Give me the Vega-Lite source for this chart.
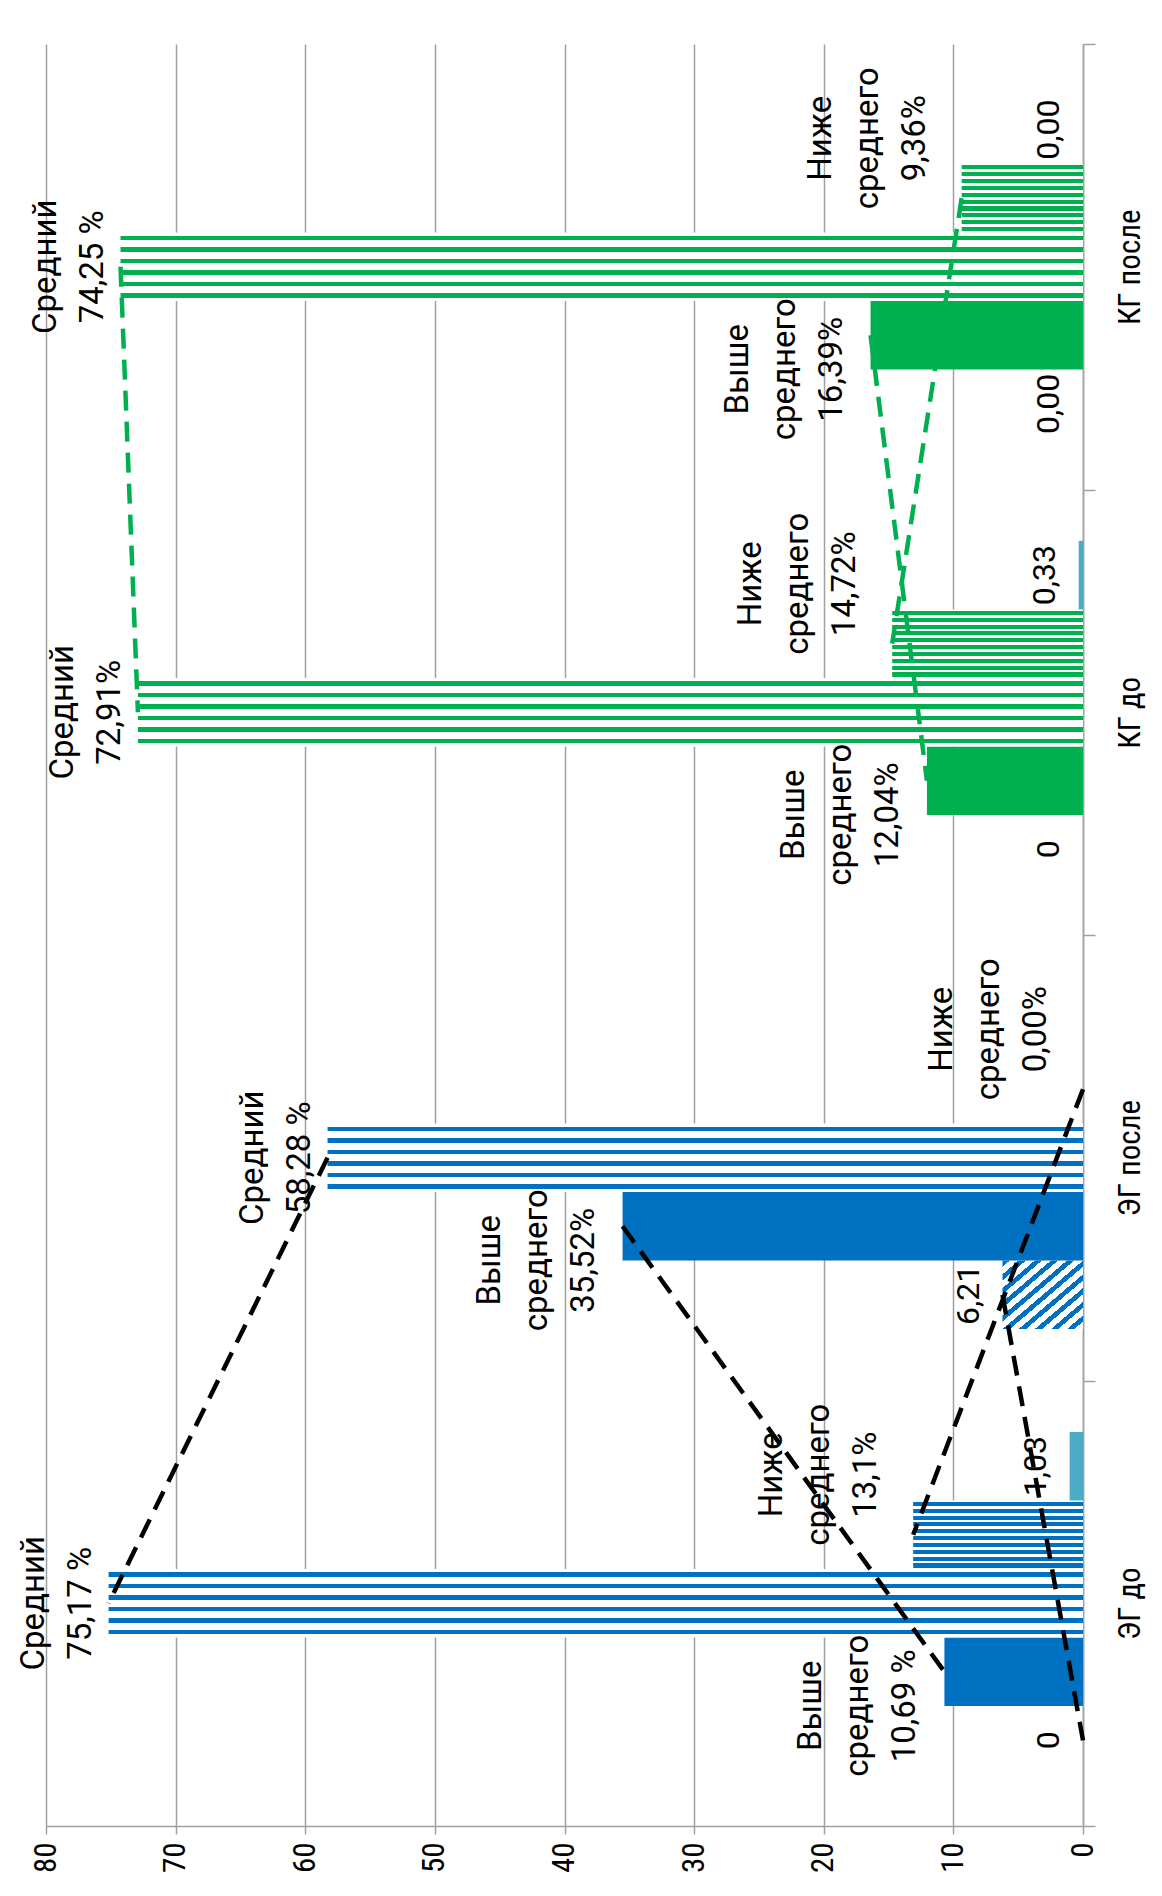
{
  "$schema": "https://vega.github.io/schema/vega-lite/v6.json",
  "width": 1037,
  "height": 1782,
  "autosize": {"type": "none"},
  "padding": {"left": 46, "top": 44, "right": 79, "bottom": 70},
  "background": "white",
  "config": {"view": {"stroke": null}, "font": "Roboto"},
  "data": {
    "values": [
      {"group": "ЭГ до", "cohort": "ЭГ", "series": "Высокий", "value": 0, "label": "0"},
      {"group": "ЭГ до", "cohort": "ЭГ", "series": "Выше", "value": 10.69, "label": "Выше\nсреднего\n10,69 %"},
      {"group": "ЭГ до", "cohort": "ЭГ", "series": "Средний", "value": 75.17, "label": "Средний\n75,17 %"},
      {"group": "ЭГ до", "cohort": "ЭГ", "series": "Ниже", "value": 13.1, "label": "Ниже\nсреднего\n13,1%"},
      {"group": "ЭГ до", "cohort": "ЭГ", "series": "Низкий", "value": 1.03, "label": "1,03"},
      {"group": "ЭГ после", "cohort": "ЭГ", "series": "Высокий", "value": 6.21, "label": "6,21"},
      {"group": "ЭГ после", "cohort": "ЭГ", "series": "Выше", "value": 35.52, "label": "Выше\nсреднего\n35,52%"},
      {"group": "ЭГ после", "cohort": "ЭГ", "series": "Средний", "value": 58.28, "label": "Средний\n58,28 %"},
      {"group": "ЭГ после", "cohort": "ЭГ", "series": "Ниже", "value": 0, "label": "Ниже\nсреднего\n0,00%"},
      {"group": "ЭГ после", "cohort": "ЭГ", "series": "Низкий", "value": 0, "label": ""},
      {"group": "КГ до", "cohort": "КГ", "series": "Высокий", "value": 0, "label": "0"},
      {"group": "КГ до", "cohort": "КГ", "series": "Выше", "value": 12.04, "label": "Выше\nсреднего\n12,04%"},
      {"group": "КГ до", "cohort": "КГ", "series": "Средний", "value": 72.91, "label": "Средний\n72,91%"},
      {"group": "КГ до", "cohort": "КГ", "series": "Ниже", "value": 14.72, "label": "Ниже\nсреднего\n14,72%"},
      {"group": "КГ до", "cohort": "КГ", "series": "Низкий", "value": 0.33, "label": "0,33"},
      {"group": "КГ после", "cohort": "КГ", "series": "Высокий", "value": 0, "label": "0,00"},
      {"group": "КГ после", "cohort": "КГ", "series": "Выше", "value": 16.39, "label": "Выше\nсреднего\n16,39%"},
      {"group": "КГ после", "cohort": "КГ", "series": "Средний", "value": 74.25, "label": "Средний\n74,25 %"},
      {"group": "КГ после", "cohort": "КГ", "series": "Ниже", "value": 9.36, "label": "Ниже\nсреднего\n9,36%"},
      {"group": "КГ после", "cohort": "КГ", "series": "Низкий", "value": 0, "label": "0,00"}
    ]
  },
  "encoding": {
    "y": {
      "field": "group",
      "type": "nominal",
      "scale": {"domain": ["КГ после", "КГ до", "ЭГ после", "ЭГ до"], "paddingInner": 0, "paddingOuter": 0},
      "axis": {
        "orient": "right",
        "title": null,
        "labelAngle": -90,
        "labelAlign": "center",
        "labelBaseline": "top",
        "labelFont": "Liberation Sans Narrow, Roboto Condensed, Roboto",
        "labelFontSize": 31,
        "labelColor": "#000000",
        "labelPadding": 20,
        "tickBand": "extent",
        "tickSize": 12,
        "tickColor": "#A0A0A0",
        "tickWidth": 1.5,
        "domainColor": "#A0A0A0",
        "domainWidth": 1.5,
        "grid": false
      }
    },
    "yOffset": {
      "field": "series",
      "type": "nominal",
      "scale": {"domain": ["Низкий", "Ниже", "Средний", "Выше", "Высокий"], "paddingInner": 0, "paddingOuter": 0.75}
    },
    "x": {
      "field": "value",
      "type": "quantitative",
      "scale": {"domain": [0, 80], "reverse": true, "nice": false, "zero": true},
      "axis": {
        "orient": "bottom",
        "title": null,
        "values": [0, 10, 20, 30, 40, 50, 60, 70, 80],
        "labelAngle": -90,
        "labelAlign": "right",
        "labelBaseline": "middle",
        "labelFont": "Liberation Sans Narrow, Roboto Condensed, Roboto",
        "labelFontSize": 31,
        "labelColor": "#000000",
        "labelPadding": 8,
        "labelFlush": false,
        "labelOverlap": false,
        "grid": true,
        "gridColor": "#A0A0A0",
        "gridWidth": 1.5,
        "tickSize": 8,
        "tickColor": "#A0A0A0",
        "tickWidth": 1.5,
        "domainColor": "#A0A0A0",
        "domainWidth": 1.5
      }
    }
  },
  "layer": [
    {
      "mark": {"type": "bar"},
      "encoding": {
        "fill": {
          "condition": [
            {"test": "datum.series === 'Низкий'", "value": "#4BACC6"},
            {"test": "datum.series === 'Выше' && datum.cohort === 'ЭГ'", "value": "#0070C0"},
            {"test": "datum.series === 'Выше'", "value": "#00B050"},
            {"test": "datum.series === 'Средний' && datum.cohort === 'ЭГ'", "value": {"gradient": "linear", "x1": 0, "y1": 0, "x2": 0, "y2": 1, "stops": [
              {"offset": 0, "color": "#FFFFFF"},
              {"offset": 0.05, "color": "#FFFFFF"}, {"offset": 0.05, "color": "#0070C0"}, {"offset": 0.117, "color": "#0070C0"}, {"offset": 0.117, "color": "#FFFFFF"},
              {"offset": 0.217, "color": "#FFFFFF"}, {"offset": 0.217, "color": "#0070C0"}, {"offset": 0.283, "color": "#0070C0"}, {"offset": 0.283, "color": "#FFFFFF"},
              {"offset": 0.383, "color": "#FFFFFF"}, {"offset": 0.383, "color": "#0070C0"}, {"offset": 0.45, "color": "#0070C0"}, {"offset": 0.45, "color": "#FFFFFF"},
              {"offset": 0.55, "color": "#FFFFFF"}, {"offset": 0.55, "color": "#0070C0"}, {"offset": 0.617, "color": "#0070C0"}, {"offset": 0.617, "color": "#FFFFFF"},
              {"offset": 0.717, "color": "#FFFFFF"}, {"offset": 0.717, "color": "#0070C0"}, {"offset": 0.783, "color": "#0070C0"}, {"offset": 0.783, "color": "#FFFFFF"},
              {"offset": 0.883, "color": "#FFFFFF"}, {"offset": 0.883, "color": "#0070C0"}, {"offset": 0.95, "color": "#0070C0"}, {"offset": 0.95, "color": "#FFFFFF"},
              {"offset": 1, "color": "#FFFFFF"}]}},
            {"test": "datum.series === 'Средний'", "value": {"gradient": "linear", "x1": 0, "y1": 0, "x2": 0, "y2": 1, "stops": [
              {"offset": 0, "color": "#FFFFFF"},
              {"offset": 0.05, "color": "#FFFFFF"}, {"offset": 0.05, "color": "#00B050"}, {"offset": 0.117, "color": "#00B050"}, {"offset": 0.117, "color": "#FFFFFF"},
              {"offset": 0.217, "color": "#FFFFFF"}, {"offset": 0.217, "color": "#00B050"}, {"offset": 0.283, "color": "#00B050"}, {"offset": 0.283, "color": "#FFFFFF"},
              {"offset": 0.383, "color": "#FFFFFF"}, {"offset": 0.383, "color": "#00B050"}, {"offset": 0.45, "color": "#00B050"}, {"offset": 0.45, "color": "#FFFFFF"},
              {"offset": 0.55, "color": "#FFFFFF"}, {"offset": 0.55, "color": "#00B050"}, {"offset": 0.617, "color": "#00B050"}, {"offset": 0.617, "color": "#FFFFFF"},
              {"offset": 0.717, "color": "#FFFFFF"}, {"offset": 0.717, "color": "#00B050"}, {"offset": 0.783, "color": "#00B050"}, {"offset": 0.783, "color": "#FFFFFF"},
              {"offset": 0.883, "color": "#FFFFFF"}, {"offset": 0.883, "color": "#00B050"}, {"offset": 0.95, "color": "#00B050"}, {"offset": 0.95, "color": "#FFFFFF"},
              {"offset": 1, "color": "#FFFFFF"}]}},
            {"test": "datum.series === 'Ниже' && datum.cohort === 'ЭГ'", "value": {"gradient": "linear", "x1": 0, "y1": 0, "x2": 0, "y2": 1, "stops": [
              {"offset": 0, "color": "#FFFFFF"},
              {"offset": 0.02, "color": "#FFFFFF"}, {"offset": 0.02, "color": "#0070C0"}, {"offset": 0.08, "color": "#0070C0"}, {"offset": 0.08, "color": "#FFFFFF"},
              {"offset": 0.12, "color": "#FFFFFF"}, {"offset": 0.12, "color": "#0070C0"}, {"offset": 0.18, "color": "#0070C0"}, {"offset": 0.18, "color": "#FFFFFF"},
              {"offset": 0.22, "color": "#FFFFFF"}, {"offset": 0.22, "color": "#0070C0"}, {"offset": 0.28, "color": "#0070C0"}, {"offset": 0.28, "color": "#FFFFFF"},
              {"offset": 0.32, "color": "#FFFFFF"}, {"offset": 0.32, "color": "#0070C0"}, {"offset": 0.38, "color": "#0070C0"}, {"offset": 0.38, "color": "#FFFFFF"},
              {"offset": 0.42, "color": "#FFFFFF"}, {"offset": 0.42, "color": "#0070C0"}, {"offset": 0.48, "color": "#0070C0"}, {"offset": 0.48, "color": "#FFFFFF"},
              {"offset": 0.52, "color": "#FFFFFF"}, {"offset": 0.52, "color": "#0070C0"}, {"offset": 0.58, "color": "#0070C0"}, {"offset": 0.58, "color": "#FFFFFF"},
              {"offset": 0.62, "color": "#FFFFFF"}, {"offset": 0.62, "color": "#0070C0"}, {"offset": 0.68, "color": "#0070C0"}, {"offset": 0.68, "color": "#FFFFFF"},
              {"offset": 0.72, "color": "#FFFFFF"}, {"offset": 0.72, "color": "#0070C0"}, {"offset": 0.78, "color": "#0070C0"}, {"offset": 0.78, "color": "#FFFFFF"},
              {"offset": 0.82, "color": "#FFFFFF"}, {"offset": 0.82, "color": "#0070C0"}, {"offset": 0.88, "color": "#0070C0"}, {"offset": 0.88, "color": "#FFFFFF"},
              {"offset": 0.92, "color": "#FFFFFF"}, {"offset": 0.92, "color": "#0070C0"}, {"offset": 0.98, "color": "#0070C0"}, {"offset": 0.98, "color": "#FFFFFF"},
              {"offset": 1, "color": "#FFFFFF"}]}},
            {"test": "datum.series === 'Ниже'", "value": {"gradient": "linear", "x1": 0, "y1": 0, "x2": 0, "y2": 1, "stops": [
              {"offset": 0, "color": "#FFFFFF"},
              {"offset": 0.02, "color": "#FFFFFF"}, {"offset": 0.02, "color": "#00B050"}, {"offset": 0.08, "color": "#00B050"}, {"offset": 0.08, "color": "#FFFFFF"},
              {"offset": 0.12, "color": "#FFFFFF"}, {"offset": 0.12, "color": "#00B050"}, {"offset": 0.18, "color": "#00B050"}, {"offset": 0.18, "color": "#FFFFFF"},
              {"offset": 0.22, "color": "#FFFFFF"}, {"offset": 0.22, "color": "#00B050"}, {"offset": 0.28, "color": "#00B050"}, {"offset": 0.28, "color": "#FFFFFF"},
              {"offset": 0.32, "color": "#FFFFFF"}, {"offset": 0.32, "color": "#00B050"}, {"offset": 0.38, "color": "#00B050"}, {"offset": 0.38, "color": "#FFFFFF"},
              {"offset": 0.42, "color": "#FFFFFF"}, {"offset": 0.42, "color": "#00B050"}, {"offset": 0.48, "color": "#00B050"}, {"offset": 0.48, "color": "#FFFFFF"},
              {"offset": 0.52, "color": "#FFFFFF"}, {"offset": 0.52, "color": "#00B050"}, {"offset": 0.58, "color": "#00B050"}, {"offset": 0.58, "color": "#FFFFFF"},
              {"offset": 0.62, "color": "#FFFFFF"}, {"offset": 0.62, "color": "#00B050"}, {"offset": 0.68, "color": "#00B050"}, {"offset": 0.68, "color": "#FFFFFF"},
              {"offset": 0.72, "color": "#FFFFFF"}, {"offset": 0.72, "color": "#00B050"}, {"offset": 0.78, "color": "#00B050"}, {"offset": 0.78, "color": "#FFFFFF"},
              {"offset": 0.82, "color": "#FFFFFF"}, {"offset": 0.82, "color": "#00B050"}, {"offset": 0.88, "color": "#00B050"}, {"offset": 0.88, "color": "#FFFFFF"},
              {"offset": 0.92, "color": "#FFFFFF"}, {"offset": 0.92, "color": "#00B050"}, {"offset": 0.98, "color": "#00B050"}, {"offset": 0.98, "color": "#FFFFFF"},
              {"offset": 1, "color": "#FFFFFF"}]}},
            {"test": "datum.series === 'Высокий' && datum.cohort === 'ЭГ'", "value": {"gradient": "linear", "x1": 0, "y1": 0, "x2": 1, "y2": 1, "stops": [
              {"offset": 0, "color": "#0070C0"}, {"offset": 0.045, "color": "#0070C0"}, {"offset": 0.045, "color": "#FFFFFF"}, {"offset": 0.1, "color": "#FFFFFF"},
              {"offset": 0.1, "color": "#0070C0"}, {"offset": 0.145, "color": "#0070C0"}, {"offset": 0.145, "color": "#FFFFFF"}, {"offset": 0.2, "color": "#FFFFFF"},
              {"offset": 0.2, "color": "#0070C0"}, {"offset": 0.245, "color": "#0070C0"}, {"offset": 0.245, "color": "#FFFFFF"}, {"offset": 0.3, "color": "#FFFFFF"},
              {"offset": 0.3, "color": "#0070C0"}, {"offset": 0.345, "color": "#0070C0"}, {"offset": 0.345, "color": "#FFFFFF"}, {"offset": 0.4, "color": "#FFFFFF"},
              {"offset": 0.4, "color": "#0070C0"}, {"offset": 0.445, "color": "#0070C0"}, {"offset": 0.445, "color": "#FFFFFF"}, {"offset": 0.5, "color": "#FFFFFF"},
              {"offset": 0.5, "color": "#0070C0"}, {"offset": 0.545, "color": "#0070C0"}, {"offset": 0.545, "color": "#FFFFFF"}, {"offset": 0.6, "color": "#FFFFFF"},
              {"offset": 0.6, "color": "#0070C0"}, {"offset": 0.645, "color": "#0070C0"}, {"offset": 0.645, "color": "#FFFFFF"}, {"offset": 0.7, "color": "#FFFFFF"},
              {"offset": 0.7, "color": "#0070C0"}, {"offset": 0.745, "color": "#0070C0"}, {"offset": 0.745, "color": "#FFFFFF"}, {"offset": 0.8, "color": "#FFFFFF"},
              {"offset": 0.8, "color": "#0070C0"}, {"offset": 0.845, "color": "#0070C0"}, {"offset": 0.845, "color": "#FFFFFF"}, {"offset": 0.9, "color": "#FFFFFF"},
              {"offset": 0.9, "color": "#0070C0"}, {"offset": 0.945, "color": "#0070C0"}, {"offset": 0.945, "color": "#FFFFFF"}, {"offset": 1, "color": "#FFFFFF"}]}}
          ],
          "value": "#00B050"
        }
      }
    },
    {
      "transform": [{"filter": "datum.series === 'Средний'"}],
      "mark": {"type": "text", "angle": 270, "align": "center", "baseline": "bottom", "dy": -58, "fontSize": 33, "lineHeight": 47, "lineBreak": "\n", "font": "Roboto", "color": "#000000"},
      "encoding": {"text": {"field": "label"}}
    },
    {
      "transform": [{"filter": "datum.series === 'Выше'"}],
      "mark": {"type": "text", "angle": 270, "align": "center", "baseline": "bottom", "dy": -116, "dx": -34, "fontSize": 33, "lineHeight": 47, "lineBreak": "\n", "font": "Roboto", "color": "#000000"},
      "encoding": {"text": {"field": "label"}}
    },
    {
      "transform": [{"filter": "datum.series === 'Ниже'"}],
      "mark": {"type": "text", "angle": 270, "align": "center", "baseline": "bottom", "dy": -124, "dx": 60, "fontSize": 33, "lineHeight": 47, "lineBreak": "\n", "font": "Roboto", "color": "#000000"},
      "encoding": {"text": {"field": "label"}}
    },
    {
      "transform": [{"filter": "(datum.series === 'Высокий' || datum.series === 'Низкий') && datum.label !== ''"}],
      "mark": {"type": "text", "angle": 270, "align": "center", "baseline": "bottom", "dy": -17, "fontSize": 32, "font": "Roboto", "color": "#000000"},
      "encoding": {"text": {"field": "label"}}
    },
    {
      "transform": [{"filter": "datum.series === 'Средний' || datum.series === 'Выше' || datum.series === 'Ниже' || (datum.series === 'Высокий' && datum.cohort === 'ЭГ')"}],
      "mark": {"type": "line", "strokeDash": [20, 11], "strokeWidth": 4.5},
      "encoding": {
        "detail": [{"field": "cohort"}, {"field": "series"}],
        "stroke": {"condition": {"test": "datum.cohort === 'КГ'", "value": "#00B050"}, "value": "#000000"}
      }
    }
  ]
}
